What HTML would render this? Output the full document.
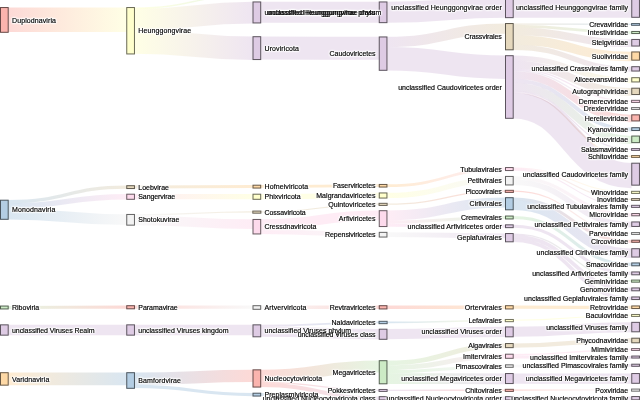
<!DOCTYPE html>
<html lang="en">
<head>
<meta charset="utf-8">
<title>Virus taxonomy Sankey</title>
<style>
html,body{margin:0;padding:0;background:#fff;}
body{width:640px;height:400px;overflow:hidden;}
svg{display:block;}
.links path{fill:none;stroke-opacity:0.5;mix-blend-mode:multiply;}
.nodes rect{stroke-width:1.0;}
.labels text{font-family:"Liberation Sans",sans-serif;font-size:7.0px;fill:#000;stroke:#000;stroke-width:0.17px;}
</style>
</head>
<body>
<svg width="640" height="400" viewBox="0 0 640 400">
<defs>
<filter id="halo" filterUnits="userSpaceOnUse" x="0" y="0" width="640" height="400" color-interpolation-filters="sRGB">
<feGaussianBlur in="SourceAlpha" stdDeviation="1.1" result="b"/>
<feComponentTransfer in="b" result="a"><feFuncA type="linear" slope="4" intercept="0"/></feComponentTransfer>
<feFlood flood-color="#fff" result="w"/>
<feComposite in="w" in2="a" operator="in" result="h"/>
<feMerge><feMergeNode in="h"/><feMergeNode in="SourceGraphic"/></feMerge>
</filter>
<linearGradient id="g1" gradientUnits="userSpaceOnUse" x1="8.40" x2="126.55" y1="0" y2="0"><stop offset="0" stop-color="#fbb4ae"/><stop offset="1" stop-color="#ffffcc"/></linearGradient>
<linearGradient id="g2" gradientUnits="userSpaceOnUse" x1="8.40" x2="126.55" y1="0" y2="0"><stop offset="0" stop-color="#b3cde3"/><stop offset="1" stop-color="#e5d8bd"/></linearGradient>
<linearGradient id="g3" gradientUnits="userSpaceOnUse" x1="8.40" x2="126.55" y1="0" y2="0"><stop offset="0" stop-color="#b3cde3"/><stop offset="1" stop-color="#fddaec"/></linearGradient>
<linearGradient id="g4" gradientUnits="userSpaceOnUse" x1="8.40" x2="126.55" y1="0" y2="0"><stop offset="0" stop-color="#b3cde3"/><stop offset="1" stop-color="#f2f2f2"/></linearGradient>
<linearGradient id="g5" gradientUnits="userSpaceOnUse" x1="8.40" x2="126.55" y1="0" y2="0"><stop offset="0" stop-color="#ccebc5"/><stop offset="1" stop-color="#fbb4ae"/></linearGradient>
<linearGradient id="g6" gradientUnits="userSpaceOnUse" x1="8.40" x2="126.55" y1="0" y2="0"><stop offset="0" stop-color="#fed9a6"/><stop offset="1" stop-color="#b3cde3"/></linearGradient>
<linearGradient id="g7" gradientUnits="userSpaceOnUse" x1="134.65" x2="252.80" y1="0" y2="0"><stop offset="0" stop-color="#ffffcc"/><stop offset="1" stop-color="#ccebc5"/></linearGradient>
<linearGradient id="g8" gradientUnits="userSpaceOnUse" x1="134.65" x2="252.80" y1="0" y2="0"><stop offset="0" stop-color="#ffffcc"/><stop offset="1" stop-color="#decbe4"/></linearGradient>
<linearGradient id="g9" gradientUnits="userSpaceOnUse" x1="134.65" x2="252.80" y1="0" y2="0"><stop offset="0" stop-color="#e5d8bd"/><stop offset="1" stop-color="#fed9a6"/></linearGradient>
<linearGradient id="g10" gradientUnits="userSpaceOnUse" x1="134.65" x2="252.80" y1="0" y2="0"><stop offset="0" stop-color="#fddaec"/><stop offset="1" stop-color="#ffffcc"/></linearGradient>
<linearGradient id="g11" gradientUnits="userSpaceOnUse" x1="134.65" x2="252.80" y1="0" y2="0"><stop offset="0" stop-color="#f2f2f2"/><stop offset="1" stop-color="#e5d8bd"/></linearGradient>
<linearGradient id="g12" gradientUnits="userSpaceOnUse" x1="134.65" x2="252.80" y1="0" y2="0"><stop offset="0" stop-color="#f2f2f2"/><stop offset="1" stop-color="#fddaec"/></linearGradient>
<linearGradient id="g13" gradientUnits="userSpaceOnUse" x1="134.65" x2="252.80" y1="0" y2="0"><stop offset="0" stop-color="#fbb4ae"/><stop offset="1" stop-color="#f2f2f2"/></linearGradient>
<linearGradient id="g14" gradientUnits="userSpaceOnUse" x1="134.65" x2="252.80" y1="0" y2="0"><stop offset="0" stop-color="#b3cde3"/><stop offset="1" stop-color="#fbb4ae"/></linearGradient>
<linearGradient id="g15" gradientUnits="userSpaceOnUse" x1="260.90" x2="379.05" y1="0" y2="0"><stop offset="0" stop-color="#fddaec"/><stop offset="1" stop-color="#f2f2f2"/></linearGradient>
<linearGradient id="g16" gradientUnits="userSpaceOnUse" x1="260.90" x2="379.05" y1="0" y2="0"><stop offset="0" stop-color="#f2f2f2"/><stop offset="1" stop-color="#fbb4ae"/></linearGradient>
<linearGradient id="g17" gradientUnits="userSpaceOnUse" x1="260.90" x2="379.05" y1="0" y2="0"><stop offset="0" stop-color="#decbe4"/><stop offset="1" stop-color="#b3cde3"/></linearGradient>
<linearGradient id="g18" gradientUnits="userSpaceOnUse" x1="260.90" x2="379.05" y1="0" y2="0"><stop offset="0" stop-color="#fbb4ae"/><stop offset="1" stop-color="#ccebc5"/></linearGradient>
<linearGradient id="g19" gradientUnits="userSpaceOnUse" x1="260.90" x2="379.05" y1="0" y2="0"><stop offset="0" stop-color="#fbb4ae"/><stop offset="1" stop-color="#decbe4"/></linearGradient>
<linearGradient id="g20" gradientUnits="userSpaceOnUse" x1="260.90" x2="379.05" y1="0" y2="0"><stop offset="0" stop-color="#b3cde3"/><stop offset="1" stop-color="#fed9a6"/></linearGradient>
<linearGradient id="g21" gradientUnits="userSpaceOnUse" x1="387.15" x2="505.30" y1="0" y2="0"><stop offset="0" stop-color="#decbe4"/><stop offset="1" stop-color="#e5d8bd"/></linearGradient>
<linearGradient id="g22" gradientUnits="userSpaceOnUse" x1="387.15" x2="505.30" y1="0" y2="0"><stop offset="0" stop-color="#fed9a6"/><stop offset="1" stop-color="#fddaec"/></linearGradient>
<linearGradient id="g23" gradientUnits="userSpaceOnUse" x1="387.15" x2="505.30" y1="0" y2="0"><stop offset="0" stop-color="#ffffcc"/><stop offset="1" stop-color="#f2f2f2"/></linearGradient>
<linearGradient id="g24" gradientUnits="userSpaceOnUse" x1="387.15" x2="505.30" y1="0" y2="0"><stop offset="0" stop-color="#e5d8bd"/><stop offset="1" stop-color="#fbb4ae"/></linearGradient>
<linearGradient id="g25" gradientUnits="userSpaceOnUse" x1="387.15" x2="505.30" y1="0" y2="0"><stop offset="0" stop-color="#fddaec"/><stop offset="1" stop-color="#b3cde3"/></linearGradient>
<linearGradient id="g26" gradientUnits="userSpaceOnUse" x1="387.15" x2="505.30" y1="0" y2="0"><stop offset="0" stop-color="#fddaec"/><stop offset="1" stop-color="#ccebc5"/></linearGradient>
<linearGradient id="g27" gradientUnits="userSpaceOnUse" x1="387.15" x2="505.30" y1="0" y2="0"><stop offset="0" stop-color="#fddaec"/><stop offset="1" stop-color="#decbe4"/></linearGradient>
<linearGradient id="g28" gradientUnits="userSpaceOnUse" x1="387.15" x2="505.30" y1="0" y2="0"><stop offset="0" stop-color="#f2f2f2"/><stop offset="1" stop-color="#decbe4"/></linearGradient>
<linearGradient id="g29" gradientUnits="userSpaceOnUse" x1="387.15" x2="505.30" y1="0" y2="0"><stop offset="0" stop-color="#fbb4ae"/><stop offset="1" stop-color="#fed9a6"/></linearGradient>
<linearGradient id="g30" gradientUnits="userSpaceOnUse" x1="387.15" x2="505.30" y1="0" y2="0"><stop offset="0" stop-color="#b3cde3"/><stop offset="1" stop-color="#ffffcc"/></linearGradient>
<linearGradient id="g31" gradientUnits="userSpaceOnUse" x1="387.15" x2="505.30" y1="0" y2="0"><stop offset="0" stop-color="#ccebc5"/><stop offset="1" stop-color="#e5d8bd"/></linearGradient>
<linearGradient id="g32" gradientUnits="userSpaceOnUse" x1="387.15" x2="505.30" y1="0" y2="0"><stop offset="0" stop-color="#ccebc5"/><stop offset="1" stop-color="#fddaec"/></linearGradient>
<linearGradient id="g33" gradientUnits="userSpaceOnUse" x1="387.15" x2="505.30" y1="0" y2="0"><stop offset="0" stop-color="#ccebc5"/><stop offset="1" stop-color="#f2f2f2"/></linearGradient>
<linearGradient id="g34" gradientUnits="userSpaceOnUse" x1="387.15" x2="505.30" y1="0" y2="0"><stop offset="0" stop-color="#ccebc5"/><stop offset="1" stop-color="#decbe4"/></linearGradient>
<linearGradient id="g35" gradientUnits="userSpaceOnUse" x1="387.15" x2="505.30" y1="0" y2="0"><stop offset="0" stop-color="#decbe4"/><stop offset="1" stop-color="#fbb4ae"/></linearGradient>
<linearGradient id="g36" gradientUnits="userSpaceOnUse" x1="513.40" x2="631.55" y1="0" y2="0"><stop offset="0" stop-color="#e5d8bd"/><stop offset="1" stop-color="#b3cde3"/></linearGradient>
<linearGradient id="g37" gradientUnits="userSpaceOnUse" x1="513.40" x2="631.55" y1="0" y2="0"><stop offset="0" stop-color="#e5d8bd"/><stop offset="1" stop-color="#ccebc5"/></linearGradient>
<linearGradient id="g38" gradientUnits="userSpaceOnUse" x1="513.40" x2="631.55" y1="0" y2="0"><stop offset="0" stop-color="#e5d8bd"/><stop offset="1" stop-color="#decbe4"/></linearGradient>
<linearGradient id="g39" gradientUnits="userSpaceOnUse" x1="513.40" x2="631.55" y1="0" y2="0"><stop offset="0" stop-color="#e5d8bd"/><stop offset="1" stop-color="#fed9a6"/></linearGradient>
<linearGradient id="g40" gradientUnits="userSpaceOnUse" x1="513.40" x2="631.55" y1="0" y2="0"><stop offset="0" stop-color="#decbe4"/><stop offset="1" stop-color="#ffffcc"/></linearGradient>
<linearGradient id="g41" gradientUnits="userSpaceOnUse" x1="513.40" x2="631.55" y1="0" y2="0"><stop offset="0" stop-color="#decbe4"/><stop offset="1" stop-color="#e5d8bd"/></linearGradient>
<linearGradient id="g42" gradientUnits="userSpaceOnUse" x1="513.40" x2="631.55" y1="0" y2="0"><stop offset="0" stop-color="#decbe4"/><stop offset="1" stop-color="#fddaec"/></linearGradient>
<linearGradient id="g43" gradientUnits="userSpaceOnUse" x1="513.40" x2="631.55" y1="0" y2="0"><stop offset="0" stop-color="#decbe4"/><stop offset="1" stop-color="#f2f2f2"/></linearGradient>
<linearGradient id="g44" gradientUnits="userSpaceOnUse" x1="513.40" x2="631.55" y1="0" y2="0"><stop offset="0" stop-color="#decbe4"/><stop offset="1" stop-color="#fbb4ae"/></linearGradient>
<linearGradient id="g45" gradientUnits="userSpaceOnUse" x1="513.40" x2="631.55" y1="0" y2="0"><stop offset="0" stop-color="#decbe4"/><stop offset="1" stop-color="#b3cde3"/></linearGradient>
<linearGradient id="g46" gradientUnits="userSpaceOnUse" x1="513.40" x2="631.55" y1="0" y2="0"><stop offset="0" stop-color="#decbe4"/><stop offset="1" stop-color="#ccebc5"/></linearGradient>
<linearGradient id="g47" gradientUnits="userSpaceOnUse" x1="513.40" x2="631.55" y1="0" y2="0"><stop offset="0" stop-color="#decbe4"/><stop offset="1" stop-color="#fed9a6"/></linearGradient>
<linearGradient id="g48" gradientUnits="userSpaceOnUse" x1="513.40" x2="631.55" y1="0" y2="0"><stop offset="0" stop-color="#fddaec"/><stop offset="1" stop-color="#ffffcc"/></linearGradient>
<linearGradient id="g49" gradientUnits="userSpaceOnUse" x1="513.40" x2="631.55" y1="0" y2="0"><stop offset="0" stop-color="#fddaec"/><stop offset="1" stop-color="#e5d8bd"/></linearGradient>
<linearGradient id="g50" gradientUnits="userSpaceOnUse" x1="513.40" x2="631.55" y1="0" y2="0"><stop offset="0" stop-color="#fddaec"/><stop offset="1" stop-color="#decbe4"/></linearGradient>
<linearGradient id="g51" gradientUnits="userSpaceOnUse" x1="513.40" x2="631.55" y1="0" y2="0"><stop offset="0" stop-color="#f2f2f2"/><stop offset="1" stop-color="#fddaec"/></linearGradient>
<linearGradient id="g52" gradientUnits="userSpaceOnUse" x1="513.40" x2="631.55" y1="0" y2="0"><stop offset="0" stop-color="#f2f2f2"/><stop offset="1" stop-color="#decbe4"/></linearGradient>
<linearGradient id="g53" gradientUnits="userSpaceOnUse" x1="513.40" x2="631.55" y1="0" y2="0"><stop offset="0" stop-color="#fbb4ae"/><stop offset="1" stop-color="#f2f2f2"/></linearGradient>
<linearGradient id="g54" gradientUnits="userSpaceOnUse" x1="513.40" x2="631.55" y1="0" y2="0"><stop offset="0" stop-color="#b3cde3"/><stop offset="1" stop-color="#fbb4ae"/></linearGradient>
<linearGradient id="g55" gradientUnits="userSpaceOnUse" x1="513.40" x2="631.55" y1="0" y2="0"><stop offset="0" stop-color="#b3cde3"/><stop offset="1" stop-color="#decbe4"/></linearGradient>
<linearGradient id="g56" gradientUnits="userSpaceOnUse" x1="513.40" x2="631.55" y1="0" y2="0"><stop offset="0" stop-color="#ccebc5"/><stop offset="1" stop-color="#b3cde3"/></linearGradient>
</defs>
<g class="links">
<path d="M8.40,19.65C67.47,19.65 67.47,19.65 126.55,19.65" stroke="url(#g1)" stroke-width="24.50"/>
<path d="M8.40,201.69C67.47,201.69 67.47,187.19 126.55,187.19" stroke="url(#g2)" stroke-width="3.27"/>
<path d="M8.40,206.03C67.47,206.03 67.47,196.75 126.55,196.75" stroke="url(#g3)" stroke-width="5.41"/>
<path d="M8.40,214.09C67.47,214.09 67.47,219.66 126.55,219.66" stroke="url(#g4)" stroke-width="10.72"/>
<path d="M8.40,307.45C67.47,307.45 67.47,307.10 126.55,307.10" stroke="url(#g5)" stroke-width="3.10"/>
<path d="M8.40,329.95C67.47,329.95 67.47,329.95 126.55,329.95" stroke="#decbe4" stroke-width="10.50"/>
<path d="M8.40,378.85C67.47,378.85 67.47,378.85 126.55,378.85" stroke="url(#g6)" stroke-width="12.60"/>
<path d="M134.65,8.10C193.72,8.10 193.72,-5.00 252.80,-5.00" stroke="url(#g7)" stroke-width="1.40"/>
<path d="M134.65,19.60C193.72,19.60 193.72,12.60 252.80,12.60" stroke="url(#g8)" stroke-width="21.60"/>
<path d="M134.65,42.12C193.72,42.12 193.72,48.27 252.80,48.27" stroke="url(#g8)" stroke-width="23.45"/>
<path d="M134.65,187.05C193.72,187.05 193.72,186.55 252.80,186.55" stroke="url(#g9)" stroke-width="3.00"/>
<path d="M134.65,196.70C193.72,196.70 193.72,196.70 252.80,196.70" stroke="url(#g10)" stroke-width="5.30"/>
<path d="M134.65,214.90C193.72,214.90 193.72,211.90 252.80,211.90" stroke="url(#g11)" stroke-width="1.20"/>
<path d="M134.65,220.35C193.72,220.35 193.72,224.15 252.80,224.15" stroke="url(#g12)" stroke-width="9.70"/>
<path d="M134.65,307.20C193.72,307.20 193.72,307.20 252.80,307.20" stroke="url(#g13)" stroke-width="3.30"/>
<path d="M134.65,329.95C193.72,329.95 193.72,329.95 252.80,329.95" stroke="#decbe4" stroke-width="10.50"/>
<path d="M134.65,378.70C193.72,378.70 193.72,375.85 252.80,375.85" stroke="url(#g14)" stroke-width="12.30"/>
<path d="M134.65,386.40C193.72,386.40 193.72,394.60 252.80,394.60" stroke="#b3cde3" stroke-width="3.10"/>
<path d="M260.90,12.25C319.98,12.25 319.98,12.25 379.05,12.25" stroke="#decbe4" stroke-width="20.90"/>
<path d="M260.90,48.05C319.98,48.05 319.98,48.30 379.05,48.30" stroke="#decbe4" stroke-width="23.00"/>
<path d="M260.90,186.45C319.98,186.45 319.98,185.70 379.05,185.70" stroke="#fed9a6" stroke-width="2.80"/>
<path d="M260.90,196.70C319.98,196.70 319.98,195.45 379.05,195.45" stroke="#ffffcc" stroke-width="5.30"/>
<path d="M260.90,211.90C319.98,211.90 319.98,204.15 379.05,204.15" stroke="#e5d8bd" stroke-width="1.20"/>
<path d="M260.90,224.20C319.98,224.20 319.98,215.45 379.05,215.45" stroke="#fddaec" stroke-width="9.80"/>
<path d="M260.90,231.55C319.98,231.55 319.98,234.65 379.05,234.65" stroke="url(#g15)" stroke-width="4.90"/>
<path d="M260.90,307.25C319.98,307.25 319.98,307.25 379.05,307.25" stroke="url(#g16)" stroke-width="3.40"/>
<path d="M260.90,325.60C319.98,325.60 319.98,322.45 379.05,322.45" stroke="url(#g17)" stroke-width="1.80"/>
<path d="M260.90,331.65C319.98,331.65 319.98,334.20 379.05,334.20" stroke="#decbe4" stroke-width="10.30"/>
<path d="M260.90,375.70C319.98,375.70 319.98,366.55 379.05,366.55" stroke="url(#g18)" stroke-width="12.00"/>
<path d="M260.90,382.40C319.98,382.40 319.98,390.40 379.05,390.40" stroke="url(#g19)" stroke-width="1.40"/>
<path d="M260.90,385.10C319.98,385.10 319.98,398.50 379.05,398.50" stroke="url(#g19)" stroke-width="4.00"/>
<path d="M260.90,394.55C319.98,394.55 319.98,407.80 379.05,407.80" stroke="url(#g20)" stroke-width="3.00"/>
<path d="M387.15,12.25C446.23,12.25 446.23,7.25 505.30,7.25" stroke="#decbe4" stroke-width="20.90"/>
<path d="M387.15,41.92C446.23,41.92 446.23,28.52 505.30,28.52" stroke="url(#g21)" stroke-width="10.25"/>
<path d="M387.15,58.75C446.23,58.75 446.23,67.25 505.30,67.25" stroke="#decbe4" stroke-width="23.40"/>
<path d="M387.15,185.70C446.23,185.70 446.23,168.80 505.30,168.80" stroke="url(#g22)" stroke-width="2.80"/>
<path d="M387.15,195.45C446.23,195.45 446.23,178.95 505.30,178.95" stroke="url(#g23)" stroke-width="5.30"/>
<path d="M387.15,204.15C446.23,204.15 446.23,191.15 505.30,191.15" stroke="url(#g24)" stroke-width="1.20"/>
<path d="M387.15,215.49C446.23,215.49 446.23,202.49 505.30,202.49" stroke="url(#g25)" stroke-width="9.88"/>
<path d="M387.15,222.02C446.23,222.02 446.23,217.49 505.30,217.49" stroke="url(#g26)" stroke-width="3.19"/>
<path d="M387.15,225.16C446.23,225.16 446.23,226.24 505.30,226.24" stroke="url(#g27)" stroke-width="3.09"/>
<path d="M387.15,234.65C446.23,234.65 446.23,235.85 505.30,235.85" stroke="url(#g28)" stroke-width="4.90"/>
<path d="M387.15,307.25C446.23,307.25 446.23,307.25 505.30,307.25" stroke="url(#g29)" stroke-width="3.40"/>
<path d="M387.15,322.35C446.23,322.35 446.23,320.50 505.30,320.50" stroke="url(#g30)" stroke-width="1.60"/>
<path d="M387.15,334.15C446.23,334.15 446.23,331.90 505.30,331.90" stroke="#decbe4" stroke-width="10.20"/>
<path d="M387.15,362.94C446.23,362.94 446.23,345.79 505.30,345.79" stroke="url(#g31)" stroke-width="4.77"/>
<path d="M387.15,367.71C446.23,367.71 446.23,356.44 505.30,356.44" stroke="url(#g32)" stroke-width="4.77"/>
<path d="M387.15,371.64C446.23,371.64 446.23,366.25 505.30,366.25" stroke="url(#g33)" stroke-width="3.10"/>
<path d="M387.15,378.57C446.23,378.57 446.23,378.78 505.30,378.78" stroke="url(#g34)" stroke-width="10.76"/>
<path d="M387.15,390.40C446.23,390.40 446.23,390.25 505.30,390.25" stroke="url(#g35)" stroke-width="1.40"/>
<path d="M387.15,398.30C446.23,398.30 446.23,398.30 505.30,398.30" stroke="#decbe4" stroke-width="3.60"/>
<path d="M513.40,7.25C572.48,7.25 572.48,7.25 631.55,7.25" stroke="#decbe4" stroke-width="20.90"/>
<path d="M513.40,24.02C572.48,24.02 572.48,24.42 631.55,24.42" stroke="url(#g36)" stroke-width="1.23"/>
<path d="M513.40,26.08C572.48,26.08 572.48,32.75 631.55,32.75" stroke="url(#g37)" stroke-width="2.89"/>
<path d="M513.40,31.38C572.48,31.38 572.48,43.15 631.55,43.15" stroke="url(#g38)" stroke-width="7.71"/>
<path d="M513.40,39.94C572.48,39.94 572.48,56.51 631.55,56.51" stroke="url(#g39)" stroke-width="9.42"/>
<path d="M513.40,47.30C572.48,47.30 572.48,69.20 631.55,69.20" stroke="url(#g38)" stroke-width="5.30"/>
<path d="M513.40,58.26C572.48,58.26 572.48,80.26 631.55,80.26" stroke="url(#g40)" stroke-width="5.42"/>
<path d="M513.40,64.85C572.48,64.85 572.48,91.93 631.55,91.93" stroke="url(#g41)" stroke-width="7.76"/>
<path d="M513.40,69.38C572.48,69.38 572.48,101.19 631.55,101.19" stroke="url(#g42)" stroke-width="1.28"/>
<path d="M513.40,70.66C572.48,70.66 572.48,108.44 631.55,108.44" stroke="url(#g43)" stroke-width="1.28"/>
<path d="M513.40,75.05C572.48,75.05 572.48,118.44 631.55,118.44" stroke="url(#g44)" stroke-width="7.49"/>
<path d="M513.40,80.72C572.48,80.72 572.48,129.48 631.55,129.48" stroke="url(#g45)" stroke-width="3.85"/>
<path d="M513.40,86.66C572.48,86.66 572.48,139.92 631.55,139.92" stroke="url(#g46)" stroke-width="8.04"/>
<path d="M513.40,91.33C572.48,91.33 572.48,149.44 631.55,149.44" stroke="#decbe4" stroke-width="1.28"/>
<path d="M513.40,92.61C572.48,92.61 572.48,156.44 631.55,156.44" stroke="url(#g47)" stroke-width="1.28"/>
<path d="M513.40,105.85C572.48,105.85 572.48,175.65 631.55,175.65" stroke="#decbe4" stroke-width="25.19"/>
<path d="M513.40,167.95C572.48,167.95 572.48,192.10 631.55,192.10" stroke="url(#g48)" stroke-width="1.10"/>
<path d="M513.40,169.05C572.48,169.05 572.48,199.35 631.55,199.35" stroke="url(#g49)" stroke-width="1.10"/>
<path d="M513.40,170.15C572.48,170.15 572.48,206.10 631.55,206.10" stroke="url(#g50)" stroke-width="1.10"/>
<path d="M513.40,177.88C572.48,177.88 572.48,214.98 631.55,214.98" stroke="url(#g51)" stroke-width="3.15"/>
<path d="M513.40,182.28C572.48,182.28 572.48,224.62 631.55,224.62" stroke="url(#g52)" stroke-width="5.65"/>
<path d="M513.40,191.12C572.48,191.12 572.48,233.38 631.55,233.38" stroke="url(#g53)" stroke-width="1.15"/>
<path d="M513.40,198.99C572.48,198.99 572.48,241.49 631.55,241.49" stroke="url(#g54)" stroke-width="2.87"/>
<path d="M513.40,205.19C572.48,205.19 572.48,253.31 631.55,253.31" stroke="url(#g55)" stroke-width="9.53"/>
<path d="M513.40,217.50C572.48,217.50 572.48,264.40 631.55,264.40" stroke="url(#g56)" stroke-width="3.20"/>
<path d="M513.40,226.25C572.48,226.25 572.48,273.35 631.55,273.35" stroke="#decbe4" stroke-width="3.10"/>
<path d="M513.40,234.03C572.48,234.03 572.48,280.93 631.55,280.93" stroke="url(#g46)" stroke-width="1.26"/>
<path d="M513.40,236.55C572.48,236.55 572.48,289.69 631.55,289.69" stroke="#decbe4" stroke-width="3.78"/>
<path d="M513.40,240.20C572.48,240.20 572.48,298.55 631.55,298.55" stroke="#decbe4" stroke-width="3.51"/>
<path d="M513.40,307.15C572.48,307.15 572.48,307.40 631.55,307.40" stroke="#fed9a6" stroke-width="3.20"/>
<path d="M513.40,320.27C572.48,320.27 572.48,315.27 631.55,315.27" stroke="#ffffcc" stroke-width="1.15"/>
<path d="M513.40,331.83C572.48,331.83 572.48,327.23 631.55,327.23" stroke="#decbe4" stroke-width="10.05"/>
<path d="M513.40,345.60C572.48,345.60 572.48,340.25 631.55,340.25" stroke="#e5d8bd" stroke-width="4.40"/>
<path d="M513.40,354.72C572.48,354.72 572.48,349.47 631.55,349.47" stroke="#fddaec" stroke-width="1.35"/>
<path d="M513.40,356.92C572.48,356.92 572.48,357.43 631.55,357.43" stroke="url(#g50)" stroke-width="3.05"/>
<path d="M513.40,366.05C572.48,366.05 572.48,365.40 631.55,365.40" stroke="url(#g52)" stroke-width="2.70"/>
<path d="M513.40,378.55C572.48,378.55 572.48,378.55 631.55,378.55" stroke="#decbe4" stroke-width="10.30"/>
<path d="M513.40,390.12C572.48,390.12 572.48,389.88 631.55,389.88" stroke="url(#g53)" stroke-width="1.15"/>
<path d="M513.40,398.30C572.48,398.30 572.48,398.20 631.55,398.20" stroke="#decbe4" stroke-width="3.60"/>
</g>
<g class="nodes">
<rect x="0.50" y="7.55" width="7.70" height="24.75" fill="#fbb4ae" stroke="#664947"/>
<rect x="0.50" y="200.20" width="7.70" height="19.10" fill="#b3cde3" stroke="#49545d"/>
<rect x="0.50" y="306.05" width="7.70" height="2.90" fill="#ccebc5" stroke="#536050"/>
<rect x="0.50" y="324.85" width="7.70" height="10.30" fill="#decbe4" stroke="#5b535d"/>
<rect x="0.50" y="372.70" width="7.70" height="12.45" fill="#fed9a6" stroke="#685844"/>
<rect x="126.75" y="7.55" width="7.70" height="46.40" fill="#ffffcc" stroke="#686853"/>
<rect x="126.75" y="185.70" width="7.70" height="2.85" fill="#e5d8bd" stroke="#5d584d"/>
<rect x="126.75" y="194.20" width="7.70" height="5.10" fill="#fddaec" stroke="#675960"/>
<rect x="126.75" y="214.45" width="7.70" height="10.70" fill="#f2f2f2" stroke="#636363"/>
<rect x="126.75" y="305.70" width="7.70" height="3.10" fill="#fbb4ae" stroke="#664947"/>
<rect x="126.75" y="324.85" width="7.70" height="10.30" fill="#decbe4" stroke="#5b535d"/>
<rect x="126.75" y="372.70" width="7.70" height="15.60" fill="#b3cde3" stroke="#49545d"/>
<rect x="252.82" y="-5.92" width="8.05" height="2.25" fill="#ccebc5" stroke="#5d6b59" stroke-width="0.65"/>
<rect x="253.00" y="1.95" width="7.70" height="21.00" fill="#decbe4" stroke="#5b535d"/>
<rect x="253.00" y="36.70" width="7.70" height="22.85" fill="#decbe4" stroke="#5b535d"/>
<rect x="253.00" y="185.20" width="7.70" height="2.85" fill="#fed9a6" stroke="#685844"/>
<rect x="253.00" y="194.20" width="7.70" height="5.10" fill="#ffffcc" stroke="#686853"/>
<rect x="252.82" y="211.07" width="8.05" height="2.10" fill="#e5d8bd" stroke="#686256" stroke-width="0.65"/>
<rect x="253.00" y="219.45" width="7.70" height="14.50" fill="#fddaec" stroke="#675960"/>
<rect x="253.00" y="305.70" width="7.70" height="3.60" fill="#f2f2f2" stroke="#636363"/>
<rect x="253.00" y="324.85" width="7.70" height="11.95" fill="#decbe4" stroke="#5b535d"/>
<rect x="253.00" y="369.85" width="7.70" height="17.20" fill="#fbb4ae" stroke="#664947"/>
<rect x="253.00" y="393.20" width="7.70" height="2.85" fill="#b3cde3" stroke="#49545d"/>
<rect x="379.25" y="1.95" width="7.70" height="20.70" fill="#decbe4" stroke="#5b535d"/>
<rect x="379.25" y="36.95" width="7.70" height="33.35" fill="#decbe4" stroke="#5b535d"/>
<rect x="379.25" y="184.45" width="7.70" height="2.60" fill="#fed9a6" stroke="#685844"/>
<rect x="379.25" y="192.95" width="7.70" height="5.10" fill="#ffffcc" stroke="#686853"/>
<rect x="379.07" y="203.32" width="8.05" height="2.10" fill="#e5d8bd" stroke="#686256" stroke-width="0.65"/>
<rect x="379.25" y="210.70" width="7.70" height="15.85" fill="#fddaec" stroke="#675960"/>
<rect x="379.25" y="232.35" width="7.70" height="4.70" fill="#f2f2f2" stroke="#636363"/>
<rect x="379.25" y="305.70" width="7.70" height="3.25" fill="#fbb4ae" stroke="#664947"/>
<rect x="379.07" y="321.32" width="8.05" height="2.35" fill="#b3cde3" stroke="#515d67" stroke-width="0.65"/>
<rect x="379.25" y="329.20" width="7.70" height="10.10" fill="#decbe4" stroke="#5b535d"/>
<rect x="379.25" y="360.70" width="7.70" height="23.10" fill="#ccebc5" stroke="#536050"/>
<rect x="379.07" y="389.47" width="8.05" height="1.95" fill="#decbe4" stroke="#655c68" stroke-width="0.65"/>
<rect x="379.25" y="396.65" width="7.70" height="3.30" fill="#decbe4" stroke="#5b535d"/>
<rect x="379.25" y="406.45" width="7.70" height="2.60" fill="#fed9a6" stroke="#685844"/>
<rect x="505.50" y="-3.05" width="7.70" height="20.70" fill="#decbe4" stroke="#5b535d"/>
<rect x="505.50" y="23.55" width="7.70" height="26.25" fill="#e5d8bd" stroke="#5d584d"/>
<rect x="505.50" y="55.70" width="7.70" height="62.60" fill="#decbe4" stroke="#5b535d"/>
<rect x="505.50" y="167.55" width="7.70" height="3.00" fill="#fddaec" stroke="#675960"/>
<rect x="505.50" y="176.45" width="7.70" height="8.50" fill="#f2f2f2" stroke="#636363"/>
<rect x="505.32" y="190.32" width="8.05" height="2.10" fill="#fbb4ae" stroke="#72524f" stroke-width="0.65"/>
<rect x="505.50" y="197.70" width="7.70" height="12.10" fill="#b3cde3" stroke="#49545d"/>
<rect x="505.50" y="216.05" width="7.70" height="2.90" fill="#ccebc5" stroke="#536050"/>
<rect x="505.50" y="224.85" width="7.70" height="2.80" fill="#decbe4" stroke="#5b535d"/>
<rect x="505.50" y="233.55" width="7.70" height="8.25" fill="#decbe4" stroke="#5b535d"/>
<rect x="505.50" y="305.70" width="7.70" height="3.25" fill="#fed9a6" stroke="#685844"/>
<rect x="505.32" y="319.47" width="8.05" height="2.20" fill="#ffffcc" stroke="#74745d" stroke-width="0.65"/>
<rect x="505.50" y="326.95" width="7.70" height="9.85" fill="#decbe4" stroke="#5b535d"/>
<rect x="505.50" y="343.55" width="7.70" height="4.10" fill="#e5d8bd" stroke="#5d584d"/>
<rect x="505.50" y="354.20" width="7.70" height="4.10" fill="#fddaec" stroke="#675960"/>
<rect x="505.50" y="364.85" width="7.70" height="2.45" fill="#f2f2f2" stroke="#636363"/>
<rect x="505.50" y="373.55" width="7.70" height="10.00" fill="#decbe4" stroke="#5b535d"/>
<rect x="505.32" y="389.32" width="8.05" height="2.10" fill="#fbb4ae" stroke="#72524f" stroke-width="0.65"/>
<rect x="505.50" y="396.65" width="7.70" height="3.30" fill="#decbe4" stroke="#5b535d"/>
<rect x="631.75" y="-3.05" width="7.70" height="20.35" fill="#decbe4" stroke="#5b535d"/>
<rect x="631.58" y="23.57" width="8.05" height="1.75" fill="#b3cde3" stroke="#515d67" stroke-width="0.65"/>
<rect x="631.75" y="31.45" width="7.70" height="2.10" fill="#ccebc5" stroke="#536050"/>
<rect x="631.75" y="39.45" width="7.70" height="6.60" fill="#decbe4" stroke="#5b535d"/>
<rect x="631.75" y="51.95" width="7.70" height="8.20" fill="#fed9a6" stroke="#685844"/>
<rect x="631.75" y="66.70" width="7.70" height="4.35" fill="#decbe4" stroke="#5b535d"/>
<rect x="631.75" y="77.70" width="7.70" height="4.25" fill="#ffffcc" stroke="#686853"/>
<rect x="631.75" y="88.20" width="7.70" height="6.35" fill="#e5d8bd" stroke="#5d584d"/>
<rect x="631.58" y="100.33" width="8.05" height="2.10" fill="#fddaec" stroke="#73636b" stroke-width="0.65"/>
<rect x="631.58" y="107.58" width="8.05" height="1.85" fill="#f2f2f2" stroke="#6e6e6e" stroke-width="0.65"/>
<rect x="631.75" y="114.85" width="7.70" height="6.10" fill="#fbb4ae" stroke="#664947"/>
<rect x="631.75" y="127.70" width="7.70" height="2.85" fill="#b3cde3" stroke="#49545d"/>
<rect x="631.75" y="136.05" width="7.70" height="6.60" fill="#ccebc5" stroke="#536050"/>
<rect x="631.58" y="148.57" width="8.05" height="1.85" fill="#decbe4" stroke="#655c68" stroke-width="0.65"/>
<rect x="631.58" y="155.57" width="8.05" height="1.85" fill="#fed9a6" stroke="#73634b" stroke-width="0.65"/>
<rect x="631.75" y="163.20" width="7.70" height="21.95" fill="#decbe4" stroke="#5b535d"/>
<rect x="631.58" y="191.32" width="8.05" height="2.10" fill="#ffffcc" stroke="#74745d" stroke-width="0.65"/>
<rect x="631.58" y="198.57" width="8.05" height="1.85" fill="#e5d8bd" stroke="#686256" stroke-width="0.65"/>
<rect x="631.58" y="205.32" width="8.05" height="2.10" fill="#decbe4" stroke="#655c68" stroke-width="0.65"/>
<rect x="631.75" y="213.55" width="7.70" height="2.25" fill="#fddaec" stroke="#675960"/>
<rect x="631.75" y="221.95" width="7.70" height="4.50" fill="#decbe4" stroke="#5b535d"/>
<rect x="631.58" y="232.57" width="8.05" height="1.85" fill="#f2f2f2" stroke="#6e6e6e" stroke-width="0.65"/>
<rect x="631.75" y="240.20" width="7.70" height="2.10" fill="#fbb4ae" stroke="#664947"/>
<rect x="631.75" y="248.70" width="7.70" height="8.35" fill="#decbe4" stroke="#5b535d"/>
<rect x="631.75" y="262.95" width="7.70" height="2.85" fill="#b3cde3" stroke="#49545d"/>
<rect x="631.75" y="271.95" width="7.70" height="2.85" fill="#decbe4" stroke="#5b535d"/>
<rect x="631.58" y="280.07" width="8.05" height="2.10" fill="#ccebc5" stroke="#5d6b59" stroke-width="0.65"/>
<rect x="631.75" y="287.95" width="7.70" height="2.85" fill="#decbe4" stroke="#5b535d"/>
<rect x="631.75" y="296.95" width="7.70" height="2.60" fill="#decbe4" stroke="#5b535d"/>
<rect x="631.75" y="305.95" width="7.70" height="2.60" fill="#fed9a6" stroke="#685844"/>
<rect x="631.58" y="314.47" width="8.05" height="1.95" fill="#ffffcc" stroke="#74745d" stroke-width="0.65"/>
<rect x="631.75" y="322.35" width="7.70" height="9.45" fill="#decbe4" stroke="#5b535d"/>
<rect x="631.75" y="338.20" width="7.70" height="4.60" fill="#e5d8bd" stroke="#5d584d"/>
<rect x="631.58" y="348.57" width="8.05" height="1.85" fill="#fddaec" stroke="#73636b" stroke-width="0.65"/>
<rect x="631.75" y="356.05" width="7.70" height="2.00" fill="#decbe4" stroke="#5b535d"/>
<rect x="631.75" y="364.20" width="7.70" height="2.10" fill="#decbe4" stroke="#5b535d"/>
<rect x="631.75" y="373.55" width="7.70" height="9.75" fill="#decbe4" stroke="#5b535d"/>
<rect x="631.58" y="389.07" width="8.05" height="2.10" fill="#f2f2f2" stroke="#6e6e6e" stroke-width="0.65"/>
<rect x="631.75" y="396.55" width="7.70" height="3.30" fill="#decbe4" stroke="#5b535d"/>
</g>
<g class="labels" filter="url(#halo)">
<text x="12.00" y="22.53" text-anchor="start" textLength="44.00" lengthAdjust="spacing">Duplodnaviria</text>
<text x="12.00" y="212.35" text-anchor="start" textLength="43.41" lengthAdjust="spacing">Monodnaviria</text>
<text x="12.00" y="310.10" text-anchor="start" textLength="27.20" lengthAdjust="spacing">Riboviria</text>
<text x="12.00" y="332.60" text-anchor="start" textLength="82.47" lengthAdjust="spacing">unclassified Viruses Realm</text>
<text x="12.00" y="381.53" text-anchor="start" textLength="37.30" lengthAdjust="spacing">Varidnaviria</text>
<text x="138.25" y="33.35" text-anchor="start" textLength="52.92" lengthAdjust="spacing">Heunggongvirae</text>
<text x="138.25" y="189.72" text-anchor="start" textLength="30.67" lengthAdjust="spacing">Loebvirae</text>
<text x="138.25" y="199.35" text-anchor="start" textLength="36.96" lengthAdjust="spacing">Sangervirae</text>
<text x="138.25" y="222.40" text-anchor="start" textLength="41.16" lengthAdjust="spacing">Shotokuvirae</text>
<text x="138.25" y="309.85" text-anchor="start" textLength="39.46" lengthAdjust="spacing">Paramavirae</text>
<text x="138.25" y="332.60" text-anchor="start" textLength="90.29" lengthAdjust="spacing">unclassified Viruses kingdom</text>
<text x="138.25" y="383.10" text-anchor="start" textLength="42.74" lengthAdjust="spacing">Bamfordvirae</text>
<text x="264.50" y="-2.20" text-anchor="start" textLength="12.62" lengthAdjust="spacing">offP</text>
<text x="264.50" y="15.05" text-anchor="start" textLength="116.78" lengthAdjust="spacing">unclassified Heunggongvirae phylum</text>
<text x="264.50" y="50.73" text-anchor="start" textLength="34.47" lengthAdjust="spacing">Uroviricota</text>
<text x="264.50" y="189.22" text-anchor="start" textLength="43.64" lengthAdjust="spacing">Hofneiviricota</text>
<text x="264.50" y="199.35" text-anchor="start" textLength="36.20" lengthAdjust="spacing">Phixviricota</text>
<text x="264.50" y="214.72" text-anchor="start" textLength="41.21" lengthAdjust="spacing">Cossaviricota</text>
<text x="264.50" y="229.30" text-anchor="start" textLength="51.87" lengthAdjust="spacing">Cressdnaviricota</text>
<text x="264.50" y="310.10" text-anchor="start" textLength="42.01" lengthAdjust="spacing">Artverviricota</text>
<text x="264.50" y="333.43" text-anchor="start" textLength="86.55" lengthAdjust="spacing">unclassified Viruses phylum</text>
<text x="264.50" y="381.05" text-anchor="start" textLength="57.65" lengthAdjust="spacing">Nucleocytoviricota</text>
<text x="264.50" y="397.23" text-anchor="start" textLength="53.99" lengthAdjust="spacing">Preplasmiviricota</text>
<text x="375.55" y="14.90" text-anchor="end" textLength="108.15" lengthAdjust="spacing">unclassified Heunggongvirae class</text>
<text x="375.55" y="56.23" text-anchor="end" textLength="45.97" lengthAdjust="spacing">Caudoviricetes</text>
<text x="375.55" y="188.35" text-anchor="end" textLength="42.63" lengthAdjust="spacing">Faserviricetes</text>
<text x="375.55" y="198.10" text-anchor="end" textLength="59.30" lengthAdjust="spacing">Malgrandaviricetes</text>
<text x="375.55" y="206.97" text-anchor="end" textLength="47.31" lengthAdjust="spacing">Quintoviricetes</text>
<text x="375.55" y="221.22" text-anchor="end" textLength="36.70" lengthAdjust="spacing">Arfiviricetes</text>
<text x="375.55" y="237.30" text-anchor="end" textLength="50.52" lengthAdjust="spacing">Repensiviricetes</text>
<text x="375.55" y="309.93" text-anchor="end" textLength="45.85" lengthAdjust="spacing">Revtraviricetes</text>
<text x="375.55" y="325.10" text-anchor="end" textLength="44.06" lengthAdjust="spacing">Naldaviricetes</text>
<text x="375.55" y="336.85" text-anchor="end" textLength="77.92" lengthAdjust="spacing">unclassified Viruses class</text>
<text x="375.55" y="374.85" text-anchor="end" textLength="42.96" lengthAdjust="spacing">Megaviricetes</text>
<text x="375.55" y="393.05" text-anchor="end" textLength="47.83" lengthAdjust="spacing">Pokkesviricetes</text>
<text x="375.55" y="400.90" text-anchor="end" textLength="112.88" lengthAdjust="spacing">unclassified Nucleocytoviricota class</text>
<text x="375.55" y="410.35" text-anchor="end" textLength="12.81" lengthAdjust="spacing">offC</text>
<text x="501.80" y="9.90" text-anchor="end" textLength="110.53" lengthAdjust="spacing">unclassified Heunggongvirae order</text>
<text x="501.80" y="39.27" text-anchor="end" textLength="37.25" lengthAdjust="spacing">Crassvirales</text>
<text x="501.80" y="89.60" text-anchor="end" textLength="103.59" lengthAdjust="spacing">unclassified Caudoviricetes order</text>
<text x="501.80" y="171.65" text-anchor="end" textLength="41.63" lengthAdjust="spacing">Tubulavirales</text>
<text x="501.80" y="183.30" text-anchor="end" textLength="34.39" lengthAdjust="spacing">Petitvirales</text>
<text x="501.80" y="193.97" text-anchor="end" textLength="36.32" lengthAdjust="spacing">Piccovirales</text>
<text x="501.80" y="206.35" text-anchor="end" textLength="32.21" lengthAdjust="spacing">Cirlivirales</text>
<text x="501.80" y="220.10" text-anchor="end" textLength="40.88" lengthAdjust="spacing">Cremevirales</text>
<text x="501.80" y="228.85" text-anchor="end" textLength="94.31" lengthAdjust="spacing">unclassified Arfiviricetes order</text>
<text x="501.80" y="240.28" text-anchor="end" textLength="44.71" lengthAdjust="spacing">Geplafuvirales</text>
<text x="501.80" y="309.93" text-anchor="end" textLength="36.98" lengthAdjust="spacing">Ortervirales</text>
<text x="501.80" y="323.18" text-anchor="end" textLength="33.40" lengthAdjust="spacing">Lefavirales</text>
<text x="501.80" y="334.48" text-anchor="end" textLength="80.30" lengthAdjust="spacing">unclassified Viruses order</text>
<text x="501.80" y="348.20" text-anchor="end" textLength="33.50" lengthAdjust="spacing">Algavirales</text>
<text x="501.80" y="358.85" text-anchor="end" textLength="38.82" lengthAdjust="spacing">Imitervirales</text>
<text x="501.80" y="368.68" text-anchor="end" textLength="46.29" lengthAdjust="spacing">Pimascovirales</text>
<text x="501.80" y="381.15" text-anchor="end" textLength="100.58" lengthAdjust="spacing">unclassified Megaviricetes order</text>
<text x="501.80" y="392.98" text-anchor="end" textLength="36.61" lengthAdjust="spacing">Chitovirales</text>
<text x="501.80" y="400.90" text-anchor="end" textLength="115.26" lengthAdjust="spacing">unclassified Nucleocytoviricota order</text>
<text x="628.05" y="9.72" text-anchor="end" textLength="112.14" lengthAdjust="spacing">unclassified Heunggongvirae family</text>
<text x="628.05" y="27.05" text-anchor="end" textLength="38.89" lengthAdjust="spacing">Crevaviridae</text>
<text x="628.05" y="35.10" text-anchor="end" textLength="40.44" lengthAdjust="spacing">Intestiviridae</text>
<text x="628.05" y="45.35" text-anchor="end" textLength="36.24" lengthAdjust="spacing">Steigviridae</text>
<text x="628.05" y="58.65" text-anchor="end" textLength="36.30" lengthAdjust="spacing">Suoliviridae</text>
<text x="628.05" y="71.47" text-anchor="end" textLength="96.48" lengthAdjust="spacing">unclassified Crassvirales family</text>
<text x="628.05" y="82.42" text-anchor="end" textLength="53.81" lengthAdjust="spacing">Aliceevansviridae</text>
<text x="628.05" y="93.97" text-anchor="end" textLength="55.89" lengthAdjust="spacing">Autographiviridae</text>
<text x="628.05" y="103.97" text-anchor="end" textLength="49.40" lengthAdjust="spacing">Demerecviridae</text>
<text x="628.05" y="111.10" text-anchor="end" textLength="44.19" lengthAdjust="spacing">Drexlerviridae</text>
<text x="628.05" y="120.50" text-anchor="end" textLength="43.42" lengthAdjust="spacing">Herelleviridae</text>
<text x="628.05" y="131.72" text-anchor="end" textLength="40.45" lengthAdjust="spacing">Kyanoviridae</text>
<text x="628.05" y="141.95" text-anchor="end" textLength="41.14" lengthAdjust="spacing">Peduoviridae</text>
<text x="628.05" y="152.10" text-anchor="end" textLength="47.06" lengthAdjust="spacing">Salasmaviridae</text>
<text x="628.05" y="159.10" text-anchor="end" textLength="40.16" lengthAdjust="spacing">Schitoviridae</text>
<text x="628.05" y="176.78" text-anchor="end" textLength="105.20" lengthAdjust="spacing">unclassified Caudoviricetes family</text>
<text x="628.05" y="194.97" text-anchor="end" textLength="37.13" lengthAdjust="spacing">Winoviridae</text>
<text x="628.05" y="202.10" text-anchor="end" textLength="31.11" lengthAdjust="spacing">Inoviridae</text>
<text x="628.05" y="208.97" text-anchor="end" textLength="100.85" lengthAdjust="spacing">unclassified Tubulavirales family</text>
<text x="628.05" y="217.28" text-anchor="end" textLength="38.79" lengthAdjust="spacing">Microviridae</text>
<text x="628.05" y="226.80" text-anchor="end" textLength="93.61" lengthAdjust="spacing">unclassified Petitvirales family</text>
<text x="628.05" y="236.10" text-anchor="end" textLength="38.98" lengthAdjust="spacing">Parvoviridae</text>
<text x="628.05" y="243.85" text-anchor="end" textLength="36.97" lengthAdjust="spacing">Circoviridae</text>
<text x="628.05" y="255.47" text-anchor="end" textLength="91.44" lengthAdjust="spacing">unclassified Cirlivirales family</text>
<text x="628.05" y="266.98" text-anchor="end" textLength="41.95" lengthAdjust="spacing">Smacoviridae</text>
<text x="628.05" y="275.98" text-anchor="end" textLength="95.92" lengthAdjust="spacing">unclassified Arfiviricetes family</text>
<text x="628.05" y="283.73" text-anchor="end" textLength="43.45" lengthAdjust="spacing">Geminiviridae</text>
<text x="628.05" y="291.98" text-anchor="end" textLength="48.15" lengthAdjust="spacing">Genomoviridae</text>
<text x="628.05" y="300.85" text-anchor="end" textLength="103.94" lengthAdjust="spacing">unclassified Geplafuvirales family</text>
<text x="628.05" y="309.85" text-anchor="end" textLength="38.13" lengthAdjust="spacing">Retroviridae</text>
<text x="628.05" y="318.05" text-anchor="end" textLength="42.19" lengthAdjust="spacing">Baculoviridae</text>
<text x="628.05" y="329.68" text-anchor="end" textLength="81.91" lengthAdjust="spacing">unclassified Viruses family</text>
<text x="628.05" y="343.10" text-anchor="end" textLength="51.78" lengthAdjust="spacing">Phycodnaviridae</text>
<text x="628.05" y="352.10" text-anchor="end" textLength="36.75" lengthAdjust="spacing">Mimiviridae</text>
<text x="628.05" y="359.65" text-anchor="end" textLength="98.05" lengthAdjust="spacing">unclassified Imitervirales family</text>
<text x="628.05" y="367.85" text-anchor="end" textLength="105.52" lengthAdjust="spacing">unclassified Pimascovirales family</text>
<text x="628.05" y="381.03" text-anchor="end" textLength="102.19" lengthAdjust="spacing">unclassified Megaviricetes family</text>
<text x="628.05" y="392.73" text-anchor="end" textLength="32.70" lengthAdjust="spacing">Poxviridae</text>
<text x="628.05" y="400.80" text-anchor="end" textLength="116.87" lengthAdjust="spacing">unclassified Nucleocytoviricota family</text>
</g>
</svg>
</body>
</html>
